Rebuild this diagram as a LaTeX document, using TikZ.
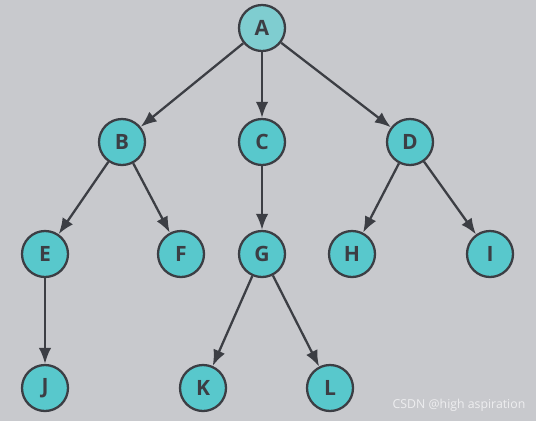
\documentclass[tikz,border=0pt]{standalone}
\usepackage{fontspec}
\setmainfont{Open Sans}
\usetikzlibrary{arrows.meta,positioning}
\definecolor{bgGray}{HTML}{C8C9CD}
\definecolor{rootTeal}{HTML}{7FCDD0}
\definecolor{nodeTeal}{HTML}{58C8CC}
\definecolor{edgeDark}{HTML}{3C3E44}
\definecolor{markGray}{HTML}{EEEEF0}

\begin{document}
\begin{tikzpicture}[font=\bfseries,>={Latex[length=3.2mm,width=2.5mm]},
  vert/.style={circle,draw=edgeDark,line width=1.3pt,fill=nodeTeal,minimum size=0.92cm,inner sep=0pt,text=edgeDark,font=\large\bfseries},
  edge/.style={->,draw=edgeDark,line width=1.3pt}]
\fill[bgGray] (0,0) rectangle (10.72,8.42);
\useasboundingbox (0,0) rectangle (10.72,8.42);
\node[vert,fill=rootTeal] (A) at (5.24,7.86) {A};
\node[vert] (B) at (2.44,5.58) {B};
\node[vert] (C) at (5.24,5.58) {C};
\node[vert] (D) at (8.20,5.58) {D};
\node[vert] (E) at (0.90,3.34) {E};
\node[vert] (F) at (3.62,3.34) {F};
\node[vert] (G) at (5.24,3.34) {G};
\node[vert] (H) at (7.04,3.34) {H};
\node[vert] (I) at (9.80,3.34) {I};
\node[vert] (J) at (0.90,0.66) {J};
\node[vert] (K) at (4.06,0.66) {K};
\node[vert] (L) at (6.60,0.66) {L};
\draw[edge] (A) -- (B);
\draw[edge] (A) -- (C);
\draw[edge] (A) -- (D);
\draw[edge] (B) -- (E);
\draw[edge] (B) -- (F);
\draw[edge] (C) -- (G);
\draw[edge] (D) -- (H);
\draw[edge] (D) -- (I);
\draw[edge] (E) -- (J);
\draw[edge] (G) -- (K);
\draw[edge] (G) -- (L);
% watermark
\node[font=\fontsize{7}{8}\selectfont,text=markGray,inner sep=0pt] (mark) at (9.18,0.32) {CSDN @high aspiration};
\end{tikzpicture}
\end{document}
